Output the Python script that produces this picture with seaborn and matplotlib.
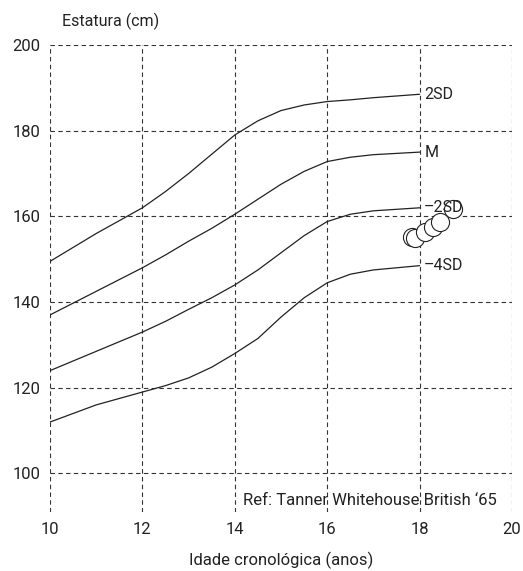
#!/usr/bin/env python3
import pandas as pd
import matplotlib.pyplot as plt
import seaborn as sns

# reference curves (Tanner Whitehouse British '65)
ages = [10, 11, 12, 12.5, 13, 13.5, 14, 14.5, 15, 15.5, 16, 16.5, 17, 18]
sd_plus2 = [149.5, 156, 162, 165.8, 170, 174.5, 179, 182.3, 184.7, 186, 186.8, 187.2, 187.7, 188.5]
median = [137, 142.5, 148, 151, 154.2, 157.2, 160.5, 164, 167.5, 170.5, 172.8, 173.8, 174.4, 175]
sd_minus2 = [124, 128.5, 133, 135.5, 138.3, 141, 144, 147.5, 151.5, 155.5, 158.8, 160.5, 161.3, 162]
sd_minus4 = [112, 116, 119, 120.5, 122.3, 124.8, 128, 131.5, 136.5, 141, 144.5, 146.5, 147.5, 148.5]
curve_names = ['2SD', 'M', '\u20132SD', '\u20134SD']

# patient measurements
pat_age = [17.83, 17.9, 18.12, 18.3, 18.45, 18.73]
pat_height = [155.2, 154.9, 156.4, 157.6, 158.7, 161.7]

sns.set_style('white')
plt.rcParams['font.family'] = ['Roboto', 'DejaVu Sans']

curves = [sd_plus2, median, sd_minus2, sd_minus4]
df = pd.concat([pd.DataFrame({'age': ages, 'height': c, 'curve': n})
                for c, n in zip(curves, curve_names)])

fig = plt.figure(figsize=(5.23, 5.71), dpi=100)
ax = fig.add_axes([0.0956, 0.1033, 0.8834, 0.8179])

sns.lineplot(data=df, x='age', y='height', units='curve', estimator=None,
             color='#222222', linewidth=0.9, ax=ax)
sns.scatterplot(x=pat_age, y=pat_height, s=170, facecolor='white',
                edgecolor='#222222', linewidth=0.8, ax=ax, zorder=5)

for c, n in zip(curves, curve_names):
    ax.text(18.1, c[-1], n, va='center', ha='left', fontsize=11.5,
            color='#222222', zorder=6)

ax.set_xlim(10, 20)
ax.set_ylim(91, 200)
ax.set_xticks(range(10, 21, 2))
ax.set_yticks(range(100, 201, 20))
ax.tick_params(labelsize=12, length=0, pad=7, labelcolor='#222222')
ax.grid(True, linestyle=(0, (4, 3)), color='#333333', linewidth=0.8)
for s in ax.spines.values():
    s.set_visible(False)

ax.set_xlabel('Idade cronológica (anos)', fontsize=12, labelpad=11, color='#222222')
ax.set_ylabel('')
fig.text(0.118, 0.963, 'Estatura (cm)', fontsize=11.5, va='center', ha='left', color='#222222')
ax.text(19.68, 93.7, 'Ref: Tanner Whitehouse British \u201865', fontsize=12,
        ha='right', va='center', color='#222222')

plt.savefig('out.png', dpi=100)
